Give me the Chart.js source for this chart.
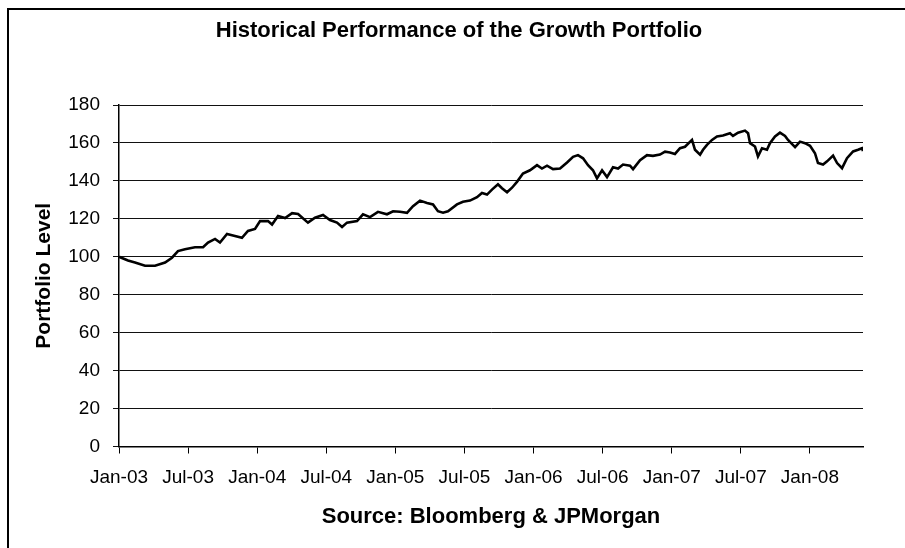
<!DOCTYPE html>
<html>
<head>
<meta charset="utf-8">
<script src="https://cdn.jsdelivr.net/npm/chart.js@4.4.1/dist/chart.umd.min.js"></script>
<style>
  html, body { margin: 0; padding: 0; background: #fff; }
  #wrap { width: 905px; height: 548px; }
</style>
</head>
<body>
<div id="wrap"><canvas id="perfChart" width="905" height="548"></canvas></div>
<script>
// months since Jan-03
const monthOffsets = [0, 0.78, 1.39, 2.26, 3.13, 4.0, 4.6, 5.12, 5.73, 6.6,
  7.3, 7.73, 8.34, 8.77, 9.38, 10.07, 10.68, 11.2, 11.81, 12.25,
  12.94, 13.29, 13.81, 14.42, 15.03, 15.55, 16.41, 17.02, 17.72, 18.32,
  18.93, 19.37, 19.8, 20.67, 21.19, 21.8, 22.49, 23.27, 23.8, 24.4,
  25.01, 25.53, 26.14, 26.75, 27.27, 27.7, 28.14, 28.57, 29.35, 29.87,
  30.48, 31.09, 31.52, 31.96, 32.39, 32.91, 33.26, 33.7, 34.13, 34.56,
  35.08, 35.69, 36.3, 36.73, 37.17, 37.69, 38.3, 38.91, 39.43, 39.86,
  40.3, 40.73, 41.16, 41.51, 41.95, 42.38, 42.9, 43.34, 43.77, 44.38,
  44.64, 45.25, 45.85, 46.37, 46.98, 47.42, 47.85, 48.28, 48.72, 49.15,
  49.76, 50.02, 50.46, 50.72, 51.06, 51.5, 51.93, 52.45, 53.06, 53.32,
  53.76, 54.36, 54.63, 54.8, 55.23, 55.49, 55.84, 56.27, 56.53, 56.97,
  57.4, 57.84, 58.1, 58.71, 59.14, 59.57, 60.01, 60.44, 60.7, 61.14,
  61.49, 62.01, 62.36, 62.79, 63.22, 63.75, 64.18, 64.52, 64.61];

const portfolioLevels = [100, 98, 97, 95.3, 95.3, 97, 99.5, 103, 104, 105,
  105, 107.5, 109.4, 107.5, 112, 111, 110, 113.6, 114.7, 118.8,
  118.8, 117, 121.5, 120.4, 123, 122.5, 118, 120.6, 122, 119.4,
  118, 115.7, 118, 118.8, 122.4, 120.9, 123.7, 122.4, 124, 123.7,
  123.2, 126.7, 129.6, 128.4, 127.6, 124, 123.2, 124, 127.6, 129,
  129.6, 131.4, 133.6, 132.8, 135.4, 138.2, 136.1, 134, 136.4, 139.5,
  143.9, 145.6, 148.3, 146.5, 148, 146.2, 146.5, 149.7, 152.7, 153.6,
  151.9, 148.3, 145.6, 141.3, 145.6, 142, 147.2, 146.5, 148.6, 148,
  146.2, 150.9, 153.6, 153.2, 153.9, 155.4, 155, 154.2, 157.2, 158,
  161.6, 156.4, 153.8, 156.4, 159, 161.6, 163.4, 163.9, 165.1, 163.7,
  165.4, 166.5, 165.1, 159.9, 158.1, 152.9, 157.2, 156.4, 159.9, 163.4,
  165.4, 163.7, 161.6, 157.8, 160.7, 159.9, 158.5, 154.6, 149.4, 148.6,
  150.3, 153.3, 149.4, 146.7, 152, 155.5, 156.4, 157.2, 155.8];

const tickMonths = [0, 6, 12, 18, 24, 30, 36, 42, 48, 54, 60];
const tickLabels = ['Jan-03', 'Jul-03', 'Jan-04', 'Jul-04', 'Jan-05', 'Jul-05',
  'Jan-06', 'Jul-06', 'Jan-07', 'Jul-07', 'Jan-08'];

const chartTitle = 'Historical Performance of the Growth Portfolio';

const FONT = '"Liberation Sans", Arial, sans-serif';

// outer border + title (title sits centred on the whole object, not the padded box)
const framePlugin = {
  id: 'frame',
  beforeDraw(chart) {
    const c = chart.ctx;
    c.save();
    c.fillStyle = '#fff';
    c.fillRect(0, 0, chart.width, chart.height);
    c.strokeStyle = '#000';
    c.lineWidth = 2;
    c.strokeRect(8, 9, chart.width + 20, chart.height + 20);
    c.restore();
  },
  afterDraw(chart) {
    const c = chart.ctx;
    c.save();
    c.fillStyle = '#000';
    c.font = 'bold 22px ' + FONT;
    c.textAlign = 'center';
    c.textBaseline = 'middle';
    c.fillText(chartTitle, 459, 31);
    c.restore();
  }
};

new Chart(document.getElementById('perfChart'), {
  type: 'line',
  data: {
    datasets: [{
      label: 'Portfolio Level',
      data: monthOffsets.map((m, i) => ({ x: m, y: portfolioLevels[i] })),
      borderColor: '#000',
      borderWidth: 2.6,
      pointRadius: 0,
      tension: 0,
      fill: false
    }]
  },
  options: {
    responsive: false,
    animation: false,
    devicePixelRatio: 1,
    layout: { padding: { left: 20, right: 42, top: 105, bottom: 0 } },
    plugins: {
      legend: { display: false },
      tooltip: { enabled: false },
      title: { display: false }
    },
    scales: {
      x: {
        type: 'linear',
        min: 0,
        max: 64.61,
        afterBuildTicks(scale) {
          scale.ticks = tickMonths.map(v => ({ value: v }));
        },
        afterFit(scale) { scale.height = 101.5; },
        ticks: {
          color: '#000',
          font: { family: FONT, size: 19 },
          padding: 13,
          maxRotation: 0,
          autoSkip: false,
          callback: (v) => tickLabels[tickMonths.indexOf(v)]
        },
        grid: { drawOnChartArea: false, drawTicks: true, tickLength: 7, color: '#000' },
        border: { color: '#000', width: 1.5 },
        title: {
          display: true,
          text: 'Source: Bloomberg & JPMorgan',
          color: '#000',
          font: { family: FONT, size: 22, weight: 'bold' },
          padding: { top: 0, bottom: 18 }
        }
      },
      y: {
        min: 0,
        max: 180,
        afterFit(scale) { scale.width = 99; },
        ticks: {
          stepSize: 20,
          color: '#000',
          font: { family: FONT, size: 19 },
          padding: 13
        },
        grid: { color: '#111', lineWidth: 1, tickLength: 6 },
        border: { color: '#000', width: 1.5 },
        title: {
          display: true,
          text: 'Portfolio Level',
          color: '#000',
          font: { family: FONT, size: 21, weight: 'bold' },
          padding: { top: 12, bottom: 0 }
        }
      }
    }
  },
  plugins: [framePlugin]
});
</script>
</body>
</html>
